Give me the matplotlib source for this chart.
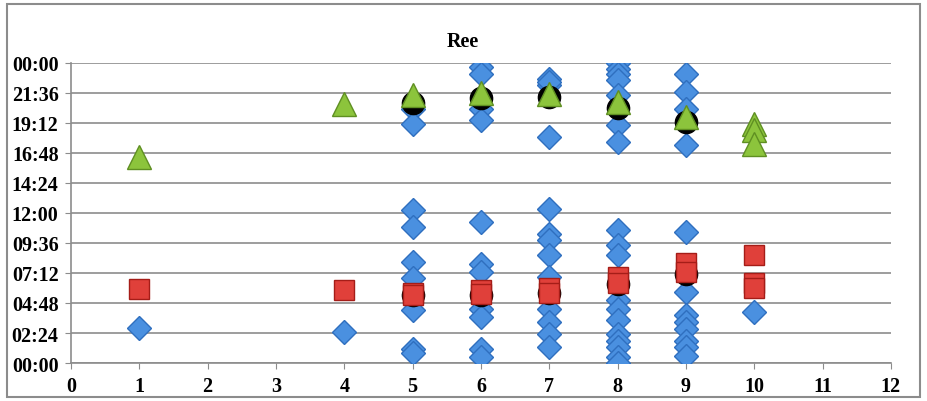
import numpy as np
import matplotlib
matplotlib.use("Agg")
import matplotlib.pyplot as plt
from matplotlib.patches import Rectangle

# values are hours of the day
blue_x = [1, 4,
          5, 5, 5, 5, 5, 5, 5, 5, 5,
          6, 6, 6, 6, 6, 6, 6, 6, 6, 6, 6,
          7, 7, 7, 7, 7, 7, 7, 7, 7, 7, 7, 7, 7,
          8, 8, 8, 8, 8, 8, 8, 8, 8, 8, 8, 8, 8, 8, 8, 8, 8, 8,
          9, 9, 9, 9, 9, 9, 9, 9, 9, 9, 9, 9,
          10]
blue_y = [2.8, 2.5,
          20.3, 19.1, 12.2, 10.9, 8.1, 6.8, 4.2, 1.1, 0.8,
          23.7, 23.1, 20.3, 19.4, 11.3, 7.9, 7.3, 4.3, 3.7, 1.1, 0.5,
          22.7, 22.2, 18.1, 12.3, 10.3, 9.8, 8.6, 4.3, 3.3, 2.3, 1.3, 6.9, 22.5,
          24.0, 23.5, 23.1, 22.6, 21.4, 19.0, 17.7, 10.6, 9.4, 8.6, 5.0, 4.3, 3.4, 2.3, 1.8, 1.3, 0.5, 0.0,
          23.1, 21.7, 20.3, 17.4, 10.5, 5.7, 3.8, 3.3, 2.7, 1.8, 1.3, 0.6,
          4.1]

black_x = [5, 6, 7, 8, 9, 5, 6, 7, 8, 9]
black_y = [20.8, 21.2, 21.3, 20.4, 19.3, 5.4, 5.4, 5.6, 6.3, 7.1]

red_x = [1, 4, 5, 5, 6, 6, 7, 7, 8, 8, 9, 9, 10, 10, 10]
red_y = [5.9, 5.85, 5.6, 5.4, 5.8, 5.5, 6.0, 5.6, 6.9, 6.4, 8.0, 7.3, 8.6, 6.4, 6.0]

green_x = [1, 4, 5, 6, 7, 8, 9, 10, 10, 10]
green_y = [16.5, 20.7, 21.4, 21.6, 21.5, 20.9, 19.7, 19.1, 18.6, 17.5]

y_ticks = np.arange(0, 24.01, 2.4)
y_labels = ["00:00", "02:24", "04:48", "07:12", "09:36", "12:00",
            "14:24", "16:48", "19:12", "21:36", "00:00"]
x_ticks = list(range(0, 13))

plt.rcParams['font.family'] = ['Liberation Serif', 'DejaVu Serif']

fig = plt.figure(figsize=(9.27, 4.02), dpi=100)
ax = fig.add_axes([0.0766, 0.0945, 0.8844, 0.7465])

ax.plot(blue_x, blue_y, linestyle='none', marker='D', markersize=12,
        markerfacecolor='#4a90e0', markeredgecolor='#2f6fbf', markeredgewidth=1, zorder=3)
ax.plot(black_x, black_y, linestyle='none', marker='o', markersize=16,
        markerfacecolor='black', markeredgecolor='black', zorder=4)
ax.plot(red_x, red_y, linestyle='none', marker='s', markersize=14,
        markerfacecolor='#e0403a', markeredgecolor='#a51d18', markeredgewidth=1, zorder=5)
ax.plot(green_x, green_y, linestyle='none', marker='^', markersize=17,
        markerfacecolor='#8cc43c', markeredgecolor='#5f8f22', markeredgewidth=1, zorder=6)

ax.set_xlim(0, 12)
ax.set_ylim(0, 24)
ax.set_xticks(x_ticks)
ax.set_xticklabels([str(v) for v in x_ticks], fontweight='bold', fontsize=14.5)
ax.set_yticks(y_ticks)
ax.set_yticklabels(y_labels, fontweight='bold', fontsize=14.5)
ax.yaxis.grid(True, color='#8c8c8c', linewidth=1.2)
ax.set_axisbelow(True)
for s in ['top', 'right']:
    ax.spines[s].set_visible(False)
for s in ['left', 'bottom']:
    ax.spines[s].set_color('#8c8c8c')
    ax.spines[s].set_linewidth(1.2)
ax.tick_params(axis='both', length=4, color='#8c8c8c', pad=5)
ax.set_title("Ree", fontweight='bold', fontsize=14.5, pad=12, x=0.478)

fig.patches.append(Rectangle((0.008, 0.01), 0.984, 0.977, transform=fig.transFigure,
                             fill=False, edgecolor='#8c8c8c', linewidth=1.5))

plt.savefig("out.png", dpi=100)
